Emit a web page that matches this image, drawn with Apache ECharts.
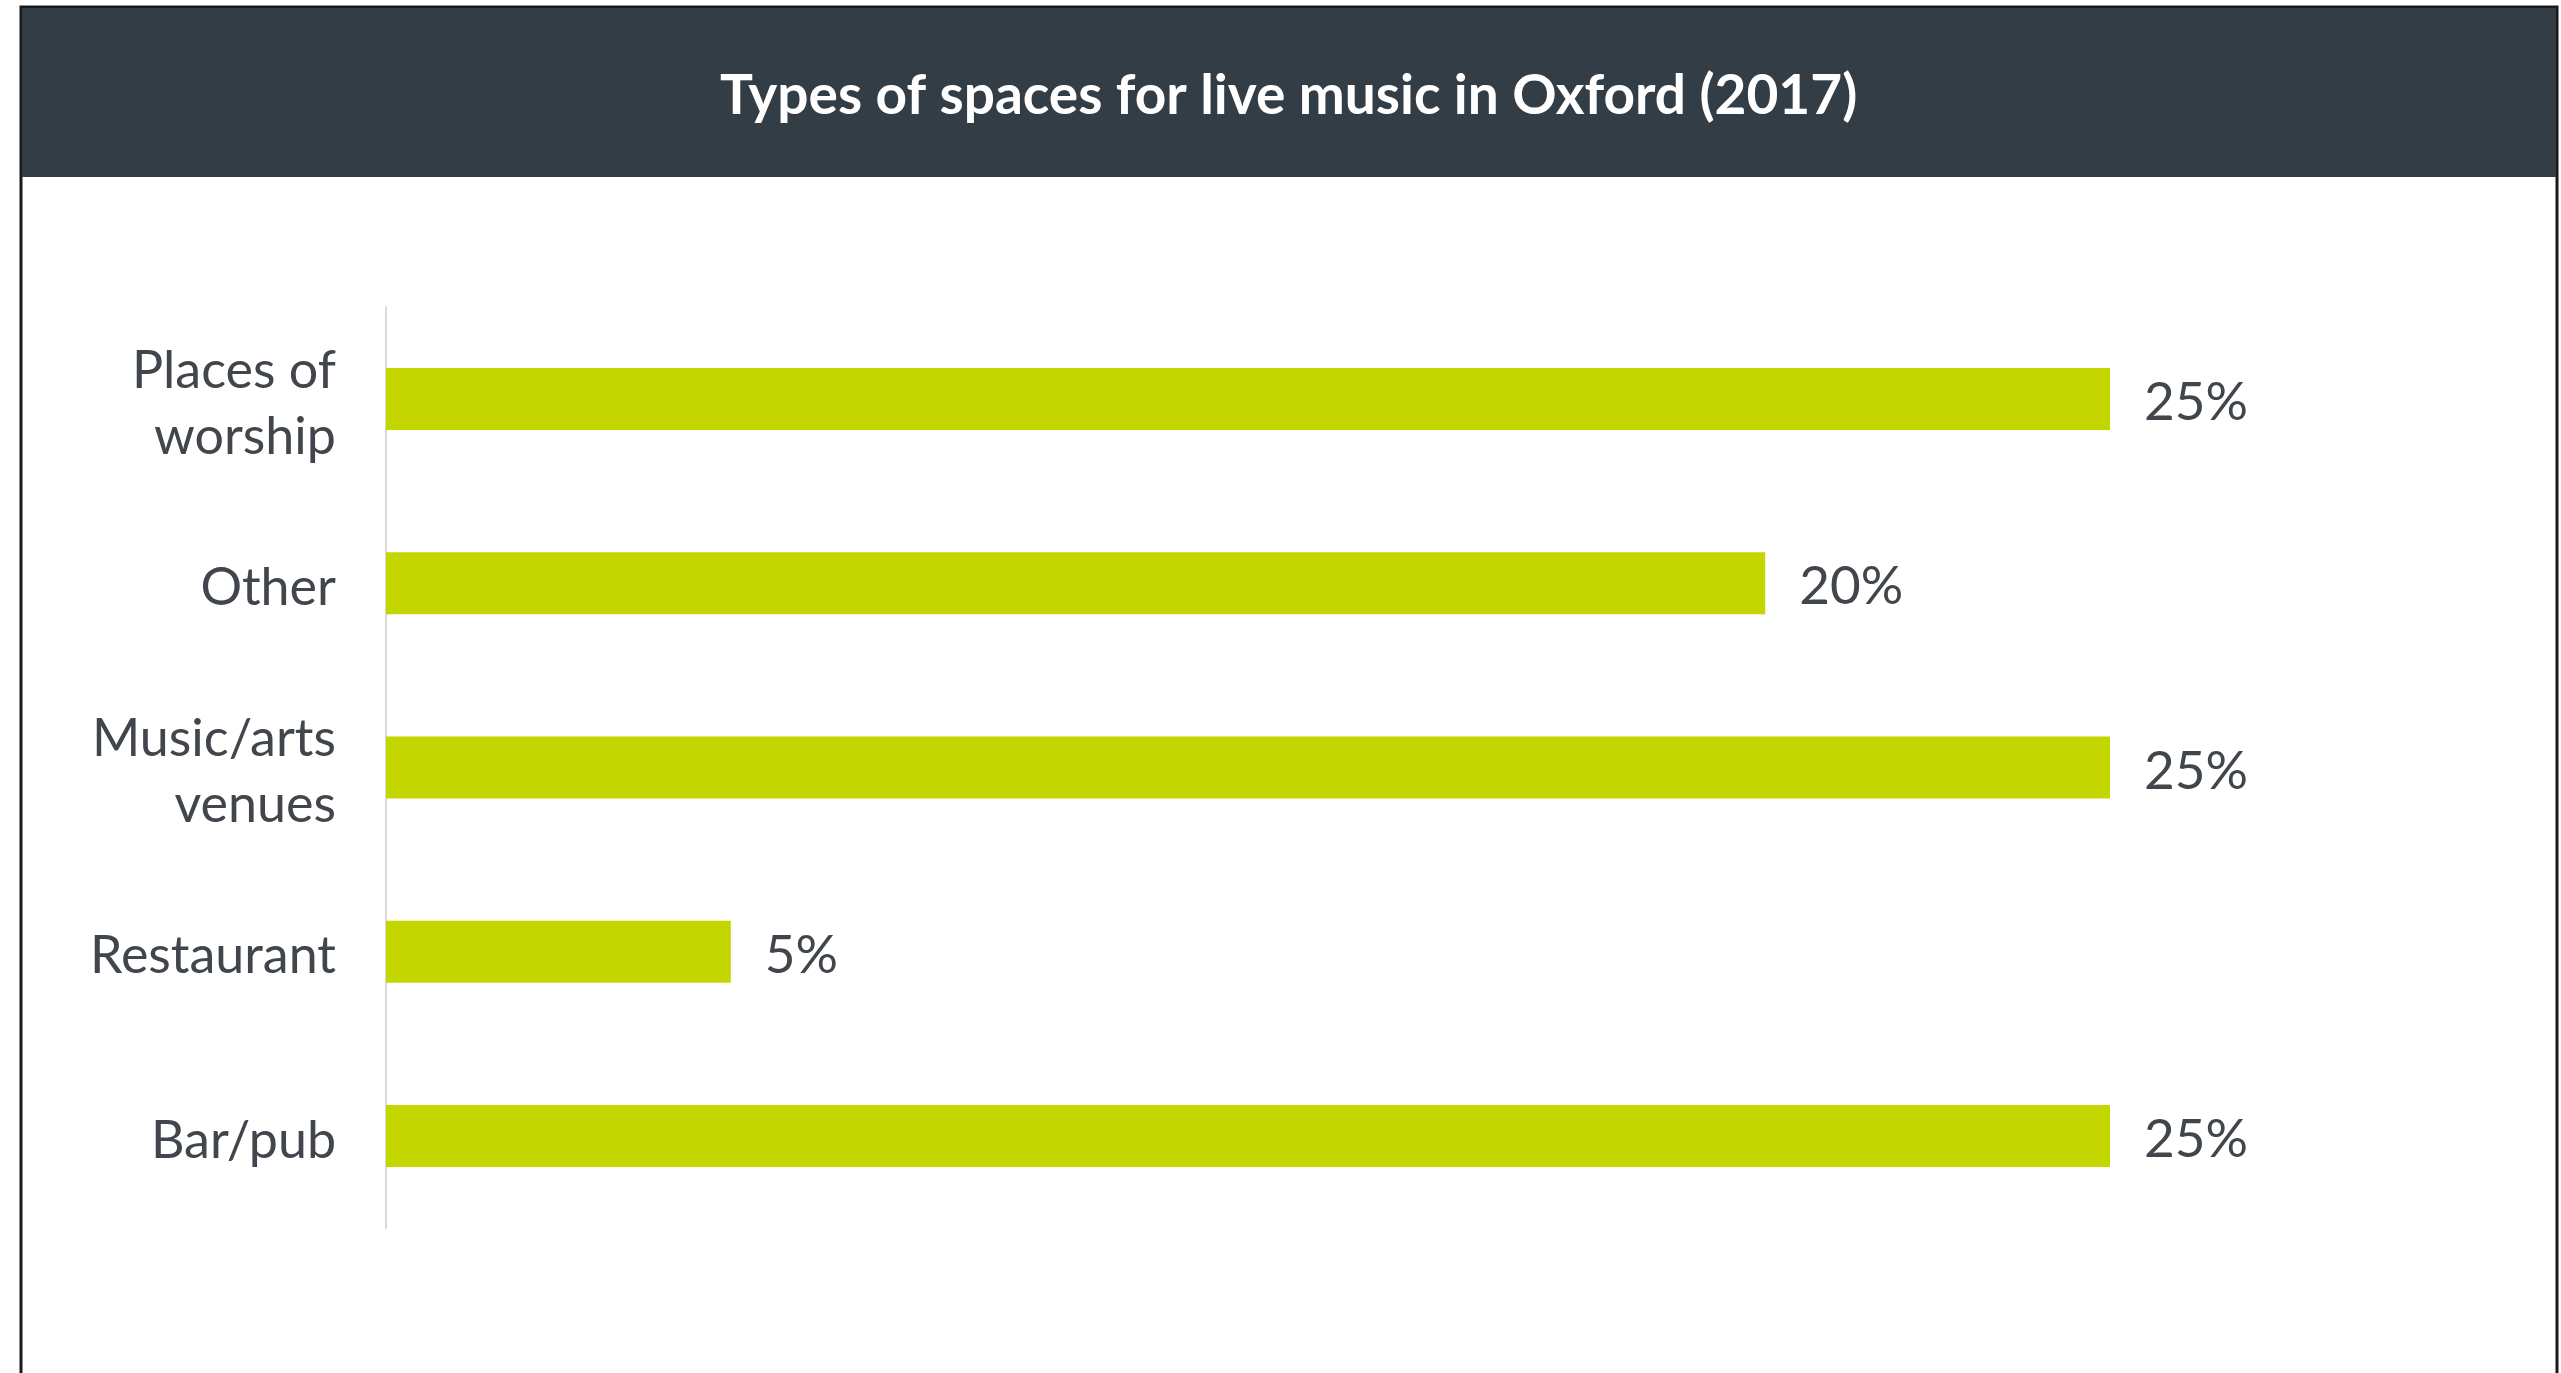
<!DOCTYPE html>
<html>
<head>
<meta charset="utf-8">
<script src="https://cdn.jsdelivr.net/npm/echarts@6/dist/echarts.min.js"></script>
<style>
html,body{margin:0;padding:0;background:#ffffff;}
#chart{width:2561px;height:1373px;}
</style>
</head>
<body>
<div id="chart"></div>
<script>
const titleText = 'Types of spaces for live music in Oxford (2017)';
const categories = ['Places of\nworship', 'Other', 'Music/arts\nvenues', 'Restaurant', 'Bar/pub'];
const values = [25, 20, 25, 5, 25];
const valueSuffix = '%';

const chart = echarts.init(document.getElementById('chart'), null, {renderer: 'canvas'});
chart.setOption({
  backgroundColor: '#ffffff',
  animation: false,
  graphic: [
    {type: 'rect', z: -10, shape: {x: 21, y: 7, width: 2536, height: 1380},
     style: {fill: '#ffffff', stroke: '#1a1a1a', lineWidth: 3}},
    {type: 'rect', z: -9, shape: {x: 22, y: 8, width: 2534, height: 169},
     style: {fill: '#333d46'}}
  ],
  title: {
    text: titleText,
    left: 715,
    top: 64,
    textStyle: {color: '#ffffff', fontFamily: 'Lato', fontWeight: 'bold', fontSize: 55}
  },
  grid: {left: 386, top: 307, width: 1724, height: 921, containLabel: false},
  xAxis: {
    type: 'value', min: 0, max: 25,
    show: false
  },
  yAxis: {
    type: 'category',
    data: categories,
    inverse: true,
    axisLine: {show: true, lineStyle: {color: '#d8d8d8', width: 2}},
    axisTick: {show: false},
    axisLabel: {
      margin: 50,
      align: 'right',
      formatter: v => v.split('\n').map(s => '{c|' + s + '}').join('\n'),
      rich: {
        c: {
          color: '#40464c',
          fontFamily: 'Lato',
          fontSize: 52,
          lineHeight: 66,
          padding: [10, 0, 0, 0],
          align: 'right'
        }
      }
    }
  },
  series: [{
    type: 'bar',
    data: values,
    barWidth: 62,
    itemStyle: {color: '#c3d600'},
    label: {
      show: true,
      position: 'right',
      distance: 34,
      offset: [0, 4],
      formatter: p => p.value + valueSuffix,
      color: '#40464c',
      fontFamily: 'Lato',
      fontSize: 53
    }
  }]
});
</script>
</body>
</html>
